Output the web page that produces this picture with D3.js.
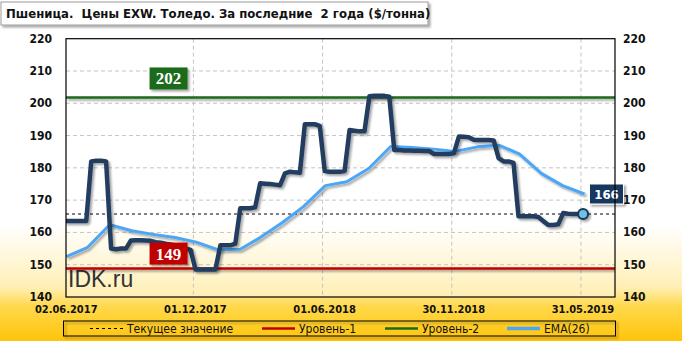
<!DOCTYPE html>
<html>
<head>
<meta charset="utf-8">
<script src="https://cdn.jsdelivr.net/npm/d3@7"></script>
<style>
    body { margin: 0; }
    svg { display: block; font-family: "DejaVu Sans Condensed", "DejaVu Sans", sans-serif; }
</style>
</head>
<body>
<div id="chart"></div>
<script>
// Chart values
let titleText = 'Пшеница.  Цены EXW. Толедо. За последние  2 года ($/тонна)';
let startDate = new Date(2017, 5, 5);

// weekly price, $/t
let priceValues = [
    163.5, 163.5, 163.5, 163.5, 163.5,
    182, 182.2, 182.2, 182,
    155, 154.8, 155, 155,
    157.5, 157.6, 157.6, 157.5, 157.4,
    157, 156.8, 156.5, 156.3, 156, 155.5, 155, 154.6,
    148.5, 148.5, 148.5, 148.5, 148.5,
    156, 156, 156, 156.5,
    167.5, 167.5, 167.5, 167.8,
    175.2, 175.1, 175, 174.8, 174.6,
    178.3, 178.8, 178.6, 178.5,
    193.5, 193.5, 193.5, 193,
    179, 178.8, 178.8, 178.8, 179,
    191.7, 191.5, 191.3, 191.3,
    202.2, 202.3, 202.3, 202.3, 202,
    185.5, 185.5, 185.4, 185.4, 185.3, 185.3, 185.2, 185.2,
    184.3, 184.3, 184.3, 184.3, 184.5,
    189.7, 189.6, 189.5, 188.7, 188.6, 188.6, 188.6, 188.5,
    183, 182, 182, 181.5,
    165, 165, 165, 165, 164.8,
    163.5, 162.3, 162.3, 162.5,
    166, 165.8, 165.7, 165.7, 165.7
];

// monthly EMA(26)
let emaValues = [
    152.5, 155.4, 162.4, 160.5, 159.4, 158.4, 157, 154.6, 154.8, 158.4,
    163, 168, 174.5, 175.7, 179.8, 186.6, 186.3, 185.8, 185.1, 186.5,
    187, 184.3, 178.3, 174.5, 171.9
];

let level1 = 148.8;
let level2 = 201.8;
let currentValue = 165.7;

let yTicks = [140, 150, 160, 170, 180, 190, 200, 210, 220];
let xTickLabels = ['02.06.2017', '01.12.2017', '01.06.2018', '30.11.2018', '31.05.2019'];
let legendLabels = ['Текущее значение', 'Уровень-1', 'Уровень-2', 'EMA(26)'];

// Sizes
let svgWidth = 682;
let svgHeight = 341;
let plot = { left: 66, right: 615, top: 38.7, bottom: 297 };

let parseDate = d3.timeParse('%d.%m.%Y');

let priceData = priceValues.map((v, i) => ({ date: d3.timeWeek.offset(startDate, i), value: v }));
let emaData = emaValues.map((v, i) => ({ date: d3.timeMonth.offset(startDate, i), value: v }));

let xScale = d3.scaleTime()
    .domain([new Date(2017, 5, 4, 12), new Date(2019, 6, 18)])
    .range([plot.left, plot.right]);

let yScale = d3.scaleLinear()
    .domain([140, 220])
    .range([plot.bottom, plot.top]);

let svg = d3.select('#chart')
    .append('svg')
    .attr('width', svgWidth)
    .attr('height', svgHeight);

let defs = svg.append('defs');

let bgGrad = defs.append('linearGradient')
    .attr('id', 'bg')
    .attr('x1', 0).attr('y1', 0).attr('x2', 0).attr('y2', 1);
bgGrad.append('stop').attr('offset', '0%').attr('stop-color', '#ffffff');
bgGrad.append('stop').attr('offset', '66%').attr('stop-color', '#ffffff');
bgGrad.append('stop').attr('offset', '84%').attr('stop-color', '#fff0b8');
bgGrad.append('stop').attr('offset', '90%').attr('stop-color', '#ffd84a');
bgGrad.append('stop').attr('offset', '100%').attr('stop-color', '#ffc40a');

let plotGrad = defs.append('linearGradient')
    .attr('id', 'plotbg')
    .attr('x1', 0).attr('y1', 0).attr('x2', 0).attr('y2', 1);
plotGrad.append('stop').attr('offset', '0%').attr('stop-color', '#ffffff');
plotGrad.append('stop').attr('offset', '72%').attr('stop-color', '#ffffff');
plotGrad.append('stop').attr('offset', '100%').attr('stop-color', '#ffefb4');

// shadow filter in user space so flat lines keep their shadow
let shadow = defs.append('filter')
    .attr('id', 'shadow')
    .attr('filterUnits', 'userSpaceOnUse')
    .attr('x', -800).attr('y', -500).attr('width', 2400).attr('height', 1400);
shadow.append('feDropShadow')
    .attr('dx', 2).attr('dy', 2).attr('stdDeviation', 1)
    .attr('flood-color', '#000').attr('flood-opacity', 0.35);

defs.append('clipPath')
    .attr('id', 'plotclip')
    .append('rect')
    .attr('x', plot.left).attr('y', plot.top)
    .attr('width', plot.right - plot.left)
    .attr('height', plot.bottom - plot.top);

// background
svg.append('rect')
    .attr('width', svgWidth)
    .attr('height', svgHeight)
    .attr('fill', 'url(#bg)');

svg.append('rect')
    .attr('x', plot.left).attr('y', plot.top)
    .attr('width', plot.right - plot.left)
    .attr('height', plot.bottom - plot.top)
    .attr('fill', 'url(#plotbg)');

// title
let titleGroup = svg.append('g');
titleGroup.append('rect')
    .attr('x', 1).attr('y', 2)
    .attr('width', 427).attr('height', 23)
    .attr('fill', '#fff')
    .attr('stroke', '#9a9a9a')
    .attr('filter', 'url(#shadow)');
titleGroup.append('text')
    .attr('x', 6).attr('y', 18)
    .style('white-space', 'pre')
    .attr('font-size', 13)
    .attr('font-weight', 'bold')
    .attr('fill', '#111')
    .text(titleText);

// grid
let grid = svg.append('g').attr('clip-path', 'url(#plotclip)');
grid.selectAll('.hgrid')
    .data(yTicks.slice(1, -1))
    .enter()
    .append('line')
    .attr('x1', plot.left).attr('x2', plot.right)
    .attr('y1', d => yScale(d)).attr('y2', d => yScale(d))
    .attr('stroke', '#c4c4c4')
    .attr('stroke-dasharray', '4,3');
grid.selectAll('.vgrid')
    .data(xTickLabels.map(parseDate))
    .enter()
    .append('line')
    .attr('x1', d => xScale(d)).attr('x2', d => xScale(d))
    .attr('y1', plot.top).attr('y2', plot.bottom)
    .attr('stroke', '#c4c4c4')
    .attr('stroke-dasharray', '4,3');

// watermark
svg.append('text')
    .attr('x', plot.left + 2)
    .attr('y', plot.bottom - 10)
    .attr('font-family', 'Liberation Sans, Arial, sans-serif')
    .attr('font-size', 23)
    .attr('fill', '#333')
    .text('IDK.ru');

let chartGroup = svg.append('g').attr('clip-path', 'url(#plotclip)');

// levels
chartGroup.append('line')
    .attr('x1', plot.left).attr('x2', plot.right)
    .attr('y1', yScale(level1)).attr('y2', yScale(level1))
    .attr('stroke', '#c00000')
    .attr('stroke-width', 2.5)
    .attr('filter', 'url(#shadow)');
chartGroup.append('line')
    .attr('x1', plot.left).attr('x2', plot.right)
    .attr('y1', yScale(level2)).attr('y2', yScale(level2))
    .attr('stroke', '#1a6b1a')
    .attr('stroke-width', 2.5)
    .attr('filter', 'url(#shadow)');

// current value
chartGroup.append('line')
    .attr('x1', plot.left).attr('x2', plot.right)
    .attr('y1', yScale(currentValue)).attr('y2', yScale(currentValue))
    .attr('stroke', '#000')
    .attr('stroke-dasharray', '3,3');

// EMA
let line = d3.line()
    .x(d => xScale(d.date))
    .y(d => yScale(d.value));

chartGroup.append('path')
    .datum(emaData)
    .attr('d', line)
    .attr('fill', 'none')
    .attr('stroke', '#4ca6f5')
    .attr('stroke-width', 3)
    .attr('stroke-linejoin', 'round')
    .attr('filter', 'url(#shadow)');

// price
chartGroup.append('path')
    .datum(priceData)
    .attr('d', line)
    .attr('fill', 'none')
    .attr('stroke', '#243e5e')
    .attr('stroke-width', 4.5)
    .attr('stroke-linejoin', 'round')
    .attr('stroke-linecap', 'round')
    .attr('filter', 'url(#shadow)');

// level labels
let labelDate = new Date(2017, 9, 27);
function levelLabel(value, gap, color) {
    let g = svg.append('g')
        .attr('transform', `translate(${xScale(labelDate)}, ${yScale(value) - gap - 11})`);
    g.append('rect')
        .attr('x', -19).attr('y', -11)
        .attr('width', 38).attr('height', 22)
        .attr('fill', color)
        .attr('filter', 'url(#shadow)');
    g.append('text')
        .attr('text-anchor', 'middle')
        .attr('y', 6)
        .attr('font-family', 'Liberation Serif, serif')
        .attr('font-weight', 'bold')
        .attr('font-size', 17)
        .attr('fill', '#fff')
        .text(Math.round(value));
}
levelLabel(level2, 8, '#1a6b1a');
levelLabel(level1, 4, '#c00000');

// last point marker and value tag
let lastPrice = priceData[priceData.length - 1];
let lastEma = emaData[emaData.length - 1];
svg.append('circle')
    .attr('cx', xScale(lastPrice.date))
    .attr('cy', yScale(lastPrice.value))
    .attr('r', 5)
    .attr('fill', '#6cc0e0')
    .attr('stroke', '#17375e')
    .attr('stroke-width', 2)
    .attr('filter', 'url(#shadow)');

let tag = svg.append('g')
    .attr('transform', `translate(${xScale(lastEma.date) + 22}, ${yScale(lastEma.value)})`);
tag.append('rect')
    .attr('x', -17).attr('y', -10)
    .attr('width', 34).attr('height', 20)
    .attr('fill', '#17375e')
    .attr('stroke', '#fff')
    .attr('filter', 'url(#shadow)');
tag.append('text')
    .attr('text-anchor', 'middle')
    .attr('y', 5)
    .attr('font-size', 13)
    .attr('font-weight', 'bold')
    .attr('fill', '#fff')
    .text(Math.round(currentValue));

// plot border
svg.append('rect')
    .attr('x', plot.left).attr('y', plot.top)
    .attr('width', plot.right - plot.left)
    .attr('height', plot.bottom - plot.top)
    .attr('fill', 'none')
    .attr('stroke', '#000')
    .attr('stroke-width', 1.2);

// y axes labels (both sides)
svg.selectAll('.ylabel-left')
    .data(yTicks)
    .enter()
    .append('text')
    .attr('x', 52)
    .attr('y', d => yScale(d) + 4)
    .attr('text-anchor', 'end')
    .attr('font-size', 12)
    .attr('font-weight', 'bold')
    .attr('fill', '#111')
    .text(d => d);
svg.selectAll('.ylabel-right')
    .data(yTicks)
    .enter()
    .append('text')
    .attr('x', 623)
    .attr('y', d => yScale(d) + 4)
    .attr('font-size', 12)
    .attr('font-weight', 'bold')
    .attr('fill', '#111')
    .text(d => d);

// x labels
svg.selectAll('.xlabel')
    .data(xTickLabels)
    .enter()
    .append('text')
    .attr('x', d => xScale(parseDate(d)) + 2)
    .attr('y', plot.bottom + 16)
    .attr('text-anchor', 'middle')
    .attr('font-size', 11)
    .attr('font-weight', 'bold')
    .attr('fill', '#111')
    .text(d => d);

// legend
let legend = svg.append('g');
legend.append('rect')
    .attr('x', 63.5).attr('y', 321)
    .attr('width', 552).attr('height', 15)
    .attr('fill', 'none')
    .attr('stroke', '#000')
    .attr('filter', 'url(#shadow)');

let legendItems = [
    { x: 90, color: '#000', width: 1, dash: '3,3' },
    { x: 262, color: '#c00000', width: 2.5, dash: null },
    { x: 385, color: '#1a6b1a', width: 2.5, dash: null },
    { x: 507, color: '#4ca6f5', width: 3.5, dash: null }
];
legendItems.forEach((item, i) => {
    legend.append('line')
        .attr('x1', item.x).attr('x2', item.x + 33)
        .attr('y1', 328.5).attr('y2', 328.5)
        .attr('stroke', item.color)
        .attr('stroke-width', item.width)
        .attr('stroke-dasharray', item.dash);
    legend.append('text')
        .attr('x', item.x + 37)
        .attr('y', 332.5)
        .attr('font-size', 12)
        .attr('fill', '#111')
        .text(legendLabels[i]);
});
</script>
</body>
</html>
